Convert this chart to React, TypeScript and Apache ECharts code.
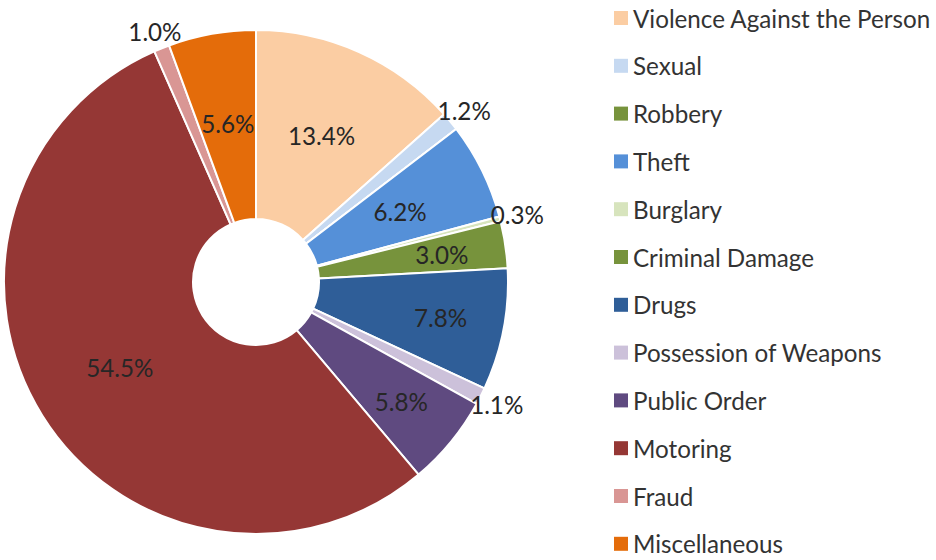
import React, { useEffect, useRef } from "react";
import * as echarts from "echarts";

const categories = [
  "Violence Against the Person",
  "Sexual",
  "Robbery",
  "Theft",
  "Burglary",
  "Criminal Damage",
  "Drugs",
  "Possession of Weapons",
  "Public Order",
  "Motoring",
  "Fraud",
  "Miscellaneous",
];
const shares = [13.4, 1.2, 0, 6.2, 0.3, 3.0, 7.8, 1.1, 5.8, 54.5, 1.0, 5.6];
const colors = [
  "#FBCDA3",
  "#C6D9F1",
  "#77933C",
  "#5590D8",
  "#D7E4BD",
  "#77933C",
  "#2F5E98",
  "#CCC1DA",
  "#5F4A80",
  "#953735",
  "#D99694",
  "#E46C0A",
];
const midLabels = ["Violence Against the Person", "Theft", "Motoring", "Miscellaneous"];
const deepLabels = ["Criminal Damage", "Drugs", "Public Order"];
const outerLabels = ["Sexual", "Burglary", "Possession of Weapons", "Fraud"];

const CENTER = [256, 282];
const FONT = 'Lato, "Open Sans", "DejaVu Sans", sans-serif';
const FONT_SIZE = 24.2;

function pieSeries(radius: any, shown: string[], visible: boolean) {
  return {
    type: "pie",
    center: CENTER,
    radius,
    startAngle: 90,
    clockwise: true,
    silent: true,
    avoidLabelOverlap: false,
    minShowLabelAngle: 0,
    z: visible ? 2 : 3,
    data: categories.map((name, i) => ({
      name,
      value: shares[i],
      itemStyle: visible
        ? { color: colors[i], borderColor: "#ffffff", borderWidth: 2 }
        : { color: "rgba(0,0,0,0)", borderWidth: 0 },
      label: { show: shown.includes(name) },
    })),
    label: {
      position: "inside",
      formatter: (p: any) => Number(p.value).toFixed(1) + "%",
      fontFamily: FONT,
      fontSize: FONT_SIZE,
      color: "#262626",
    },
    labelLine: { show: false },
    emphasis: { disabled: true },
  };
}

export default function App() {
  const ref = useRef<HTMLDivElement>(null);
  useEffect(() => {
    if (!ref.current) return;
    const chart = echarts.init(ref.current, undefined, { renderer: "svg" });
    chart.setOption({
      animation: false,
      backgroundColor: "#ffffff",
      legend: {
        orient: "vertical",
        left: 614,
        top: 5,
        height: 555,
        padding: 0,
        itemWidth: 14,
        itemHeight: 14,
        itemGap: 21.8,
        icon: "rect",
        selectedMode: false,
        textStyle: { fontFamily: FONT, fontSize: FONT_SIZE, color: "#333333", lineHeight: 26 },
        data: categories.map((name, i) => ({
          name,
          itemStyle: { color: colors[i], borderWidth: 0 },
        })),
      },
      series: [
        pieSeries([63, 252], midLabels, true),
        pieSeries([170, 200], deepLabels, false),
        pieSeries([252, 282], outerLabels, false),
      ],
    });
    return () => chart.dispose();
  }, []);
  return (
    <div
      ref={ref}
      style={{ position: "absolute", left: 0, top: 0, width: 936, height: 560 }}
    />
  );
}
